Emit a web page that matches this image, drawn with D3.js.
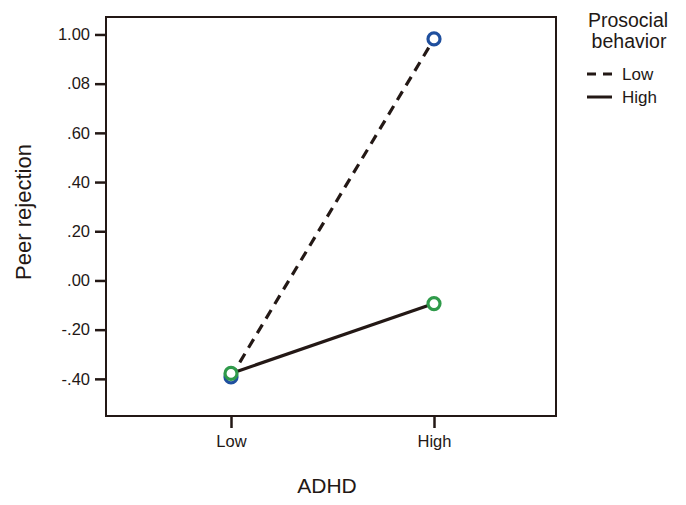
<!DOCTYPE html>
<html>
<head>
<meta charset="utf-8">
<script src="https://cdn.jsdelivr.net/npm/d3@7"></script>
<style>
  body { margin: 0; background: #fff; }
  text { font-family: "Liberation Sans", Arial, sans-serif; fill: #231815; }
</style>
</head>
<body>
<div id="chart"></div>
<script>
// data
var adhdLevels = ["Low", "High"];
var prosocialLow = [-0.392, 0.982];   // dashed, blue markers
var prosocialHigh = [-0.378, -0.094]; // solid, green markers
var yTickValues = [1.0, 0.8, 0.6, 0.4, 0.2, 0.0, -0.2, -0.4];
var yTickLabels = ["1.00", ".08", ".60", ".40", ".20", ".00", "-.20", "-.40"];

var width = 686, height = 505;
var ink = "#231815";

var svg = d3.select("#chart").append("svg")
    .attr("width", width)
    .attr("height", height);

var plot = { left: 106, top: 17, right: 556, bottom: 416 };

var x = d3.scalePoint()
    .domain(adhdLevels)
    .range([231, 434]);

var y = d3.scaleLinear()
    .domain([-0.551, 1.071])
    .range([plot.bottom, plot.top]);

// frame
svg.append("rect")
    .attr("x", plot.left)
    .attr("y", plot.top)
    .attr("width", plot.right - plot.left)
    .attr("height", plot.bottom - plot.top)
    .style("fill", "none")
    .style("stroke", ink)
    .style("stroke-width", 2);

// y axis
var yAxis = d3.axisLeft(y)
    .tickValues(yTickValues)
    .tickSize(11)
    .tickPadding(5)
    .tickFormat(function(d, i) { return yTickLabels[i]; });

var gy = svg.append("g")
    .attr("transform", "translate(" + plot.left + ",0)")
    .call(yAxis);
gy.select(".domain").remove();
gy.selectAll(".tick line").style("stroke", ink).style("stroke-width", 2.5);
gy.selectAll(".tick text").style("font-size", "16.5px").style("fill", ink);

// x axis
var xAxis = d3.axisBottom(x)
    .tickSize(12)
    .tickPadding(7);

var gx = svg.append("g")
    .attr("transform", "translate(0," + plot.bottom + ")")
    .call(xAxis);
gx.select(".domain").remove();
gx.selectAll(".tick line").style("stroke", ink).style("stroke-width", 2.5);
gx.selectAll(".tick text").style("font-size", "16.5px").style("fill", ink);

// axis titles
svg.append("text")
    .attr("x", 327)
    .attr("y", 493)
    .attr("text-anchor", "middle")
    .style("font-size", "21px")
    .text("ADHD");

svg.append("text")
    .attr("transform", "translate(31,212) rotate(-90)")
    .attr("text-anchor", "middle")
    .style("font-size", "22px")
    .text("Peer rejection");

// lines
var line = d3.line()
    .x(function(d, i) { return x(adhdLevels[i]); })
    .y(function(d) { return y(d); });

svg.append("path")
    .datum(prosocialLow)
    .attr("d", line)
    .style("fill", "none")
    .style("stroke", ink)
    .style("stroke-width", 3.2)
    .style("stroke-dasharray", "10,7");

svg.append("path")
    .datum(prosocialHigh)
    .attr("d", line)
    .style("fill", "none")
    .style("stroke", ink)
    .style("stroke-width", 3.2);

// markers
function markers(values, color) {
  svg.selectAll(null)
      .data(values)
      .enter().append("circle")
      .attr("cx", function(d, i) { return x(adhdLevels[i]); })
      .attr("cy", function(d) { return y(d); })
      .attr("r", 6)
      .style("fill", "#fff")
      .style("stroke", color)
      .style("stroke-width", 3.2);
}
markers(prosocialLow, "#1f4f9e");
markers(prosocialHigh, "#2f9a4a");

// legend
var legend = svg.append("g");
legend.append("text")
    .attr("x", 628).attr("y", 27)
    .attr("text-anchor", "middle")
    .style("font-size", "19.5px")
    .text("Prosocial");
legend.append("text")
    .attr("x", 629).attr("y", 48)
    .attr("text-anchor", "middle")
    .style("font-size", "19.5px")
    .text("behavior");

var items = [
  { label: "Low", dash: "9,7", y: 74 },
  { label: "High", dash: null, y: 97 }
];
items.forEach(function(it) {
  legend.append("line")
      .attr("x1", 587).attr("x2", 612)
      .attr("y1", it.y).attr("y2", it.y)
      .style("stroke", ink)
      .style("stroke-width", 3)
      .style("stroke-dasharray", it.dash);
  legend.append("text")
      .attr("x", 622).attr("y", it.y + 6)
      .style("font-size", "17px")
      .text(it.label);
});
</script>
</body>
</html>
